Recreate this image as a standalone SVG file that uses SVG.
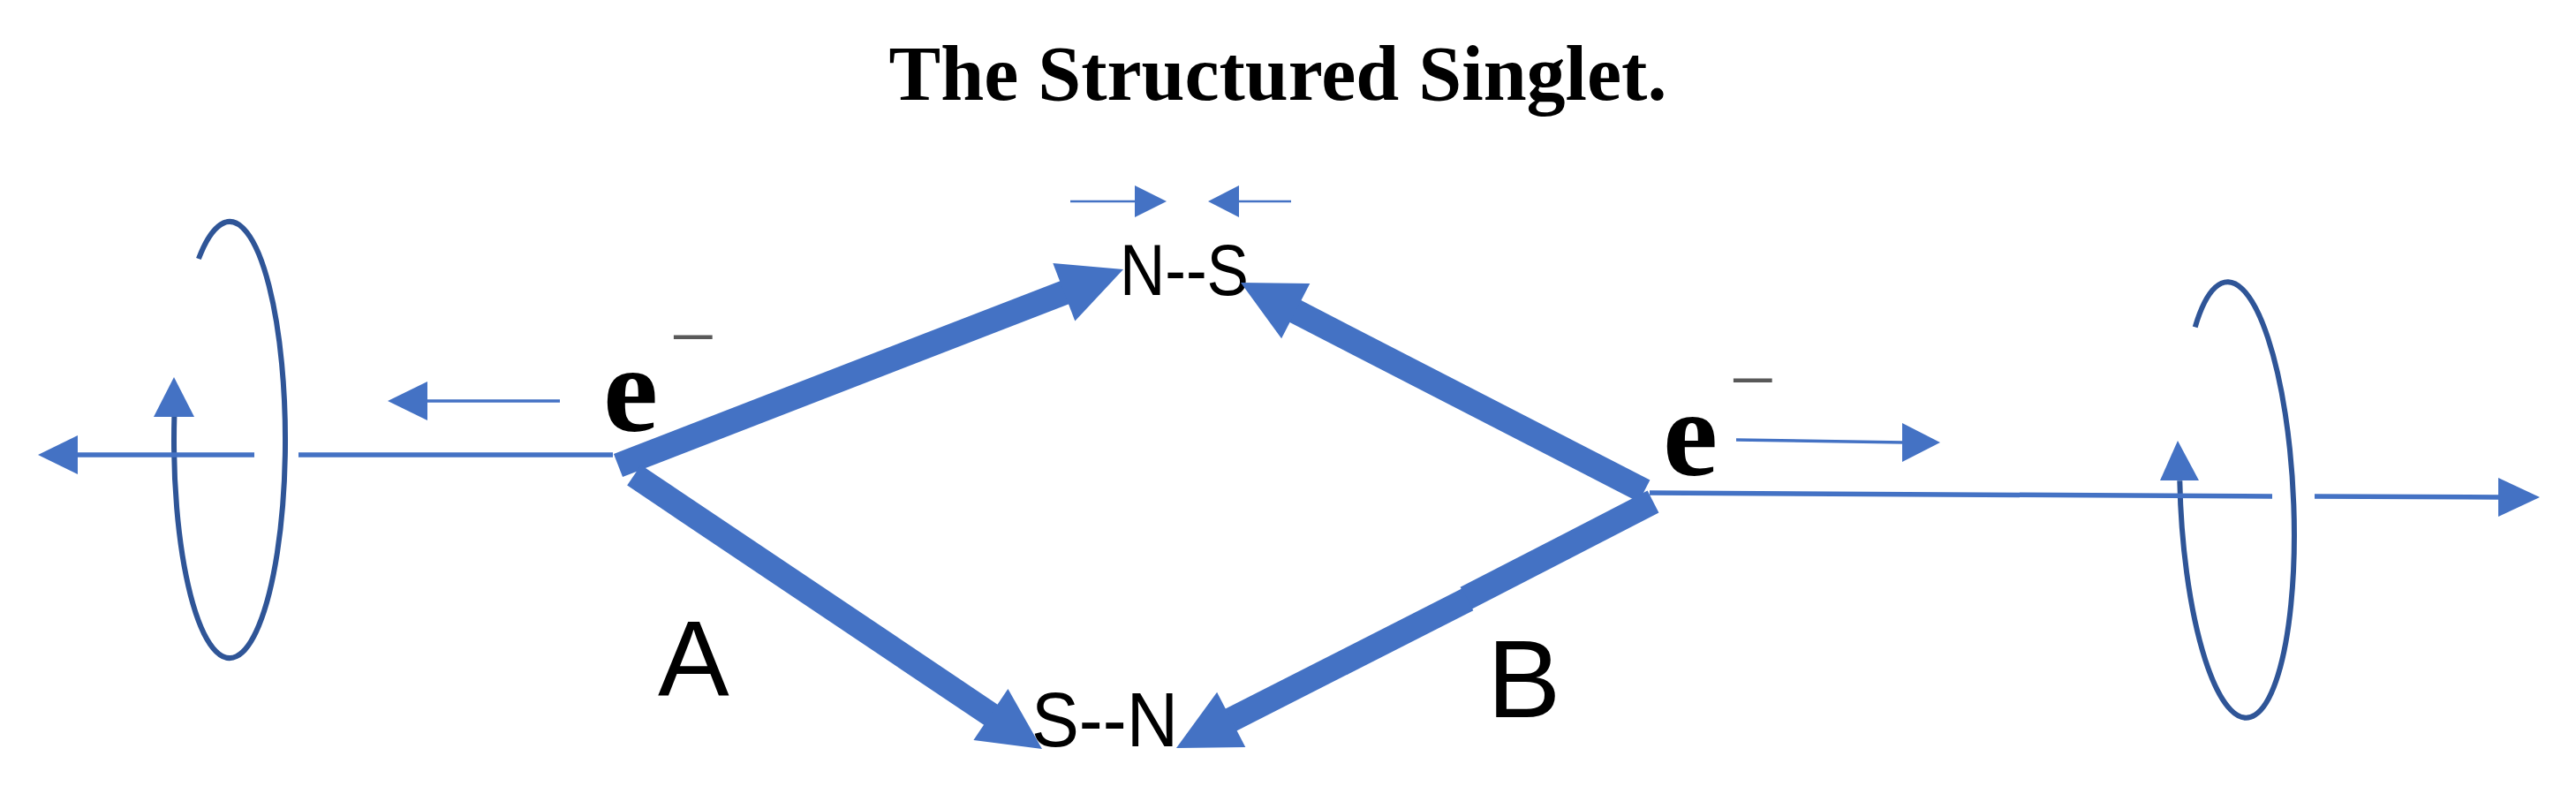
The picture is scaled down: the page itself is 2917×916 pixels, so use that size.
<svg xmlns="http://www.w3.org/2000/svg" width="2917" height="916" viewBox="0 0 2917 916">
<style>
.title{font-family:"Liberation Serif","Times New Roman",serif;font-weight:bold;font-size:88px;fill:#000}
.e{font-family:"Liberation Serif","Times New Roman",serif;font-weight:bold;font-size:140px;fill:#000}
.minus{font-family:"Liberation Serif","Times New Roman",serif;font-weight:normal;font-size:94px;fill:#595959}
.lbl{font-family:"Liberation Sans",Arial,sans-serif;fill:#000}
.thick{stroke:#4472C4;stroke-width:28;fill:none;stroke-linecap:butt}
.axis{stroke:#4472C4;stroke-width:5.5;fill:none}
.thin{stroke:#4472C4;stroke-width:3.5;fill:none}
.tiny{stroke:#4472C4;stroke-width:2.7;fill:none}
.head{fill:#4472C4}
.spin{stroke:#2F5597;stroke-width:6;fill:none}
</style>
<rect width="2917" height="916" fill="#fff"/>

<g id="title">
<text class="title" x="1447" y="113" text-anchor="middle">The Structured Singlet.</text>
</g>

<g id="spin-left">
<path class="spin" d="M 224.9 293 A 63 247 0 1 1 197.4 471"/>
<polygon class="head" points="174,472 220,472 197,427"/>
</g>

<g id="spin-right">
<path class="spin" d="M 2485.7 370.3 A 64 247 -2.6 1 1 2468.3 544.2"/>
<polygon class="head" points="2446,544 2490,544 2466,499"/>
</g>

<g id="electron-A">
<text class="e" x="683" y="488">e<tspan class="minus" x="758" y="413">−</tspan></text>
</g>

<g id="electron-B">
<text class="e" x="1883" y="538">e<tspan class="minus" x="1958" y="462">−</tspan></text>
</g>

<g id="magnet-NS">
<text class="lbl" x="1268" y="334" font-size="82" textLength="146" lengthAdjust="spacingAndGlyphs">N--S</text>
</g>

<g id="magnet-SN">
<text class="lbl" x="1168" y="845" font-size="87" textLength="166" lengthAdjust="spacingAndGlyphs">S--N</text>
</g>

<g id="label-A">
<text class="lbl" x="745" y="787" font-size="121">A</text>
</g>

<g id="label-B">
<text class="lbl" x="1684" y="812" font-size="125">B</text>
</g>

<g id="connectors">
<line class="axis" x1="86" y1="515" x2="288" y2="515"/>
<line class="axis" x1="338" y1="515" x2="694" y2="515"/>
<polygon class="head" points="43,515 88,493 88,537"/>
<line class="thin" x1="482" y1="454" x2="634" y2="454"/>
<polygon class="head" points="439,454 484,432 484,476"/>
<line class="axis" x1="1868" y1="558" x2="2573" y2="562"/>
<line class="axis" x1="2621" y1="562" x2="2831" y2="563"/>
<polygon class="head" points="2876,563 2829,541 2829,585"/>
<line class="thin" x1="1966" y1="498" x2="2156" y2="501"/>
<polygon class="head" points="2197,501 2154,479 2154,523"/>
<line class="tiny" x1="1212" y1="228" x2="1287" y2="228"/>
<polygon class="head" points="1321,228 1285,210 1285,246"/>
<line class="tiny" x1="1401" y1="228" x2="1462" y2="228"/>
<polygon class="head" points="1368,228 1403,210 1403,246"/>
<line class="thick" x1="700" y1="527" x2="1206" y2="331"/>
<polygon class="head" points="1272,305 1192.3,298.1 1217.3,363.5"/>
<line class="thick" x1="718" y1="538" x2="1123" y2="810"/>
<polygon class="head" points="1180,848 1102.4,838.1 1141.4,779.9"/>
<line class="thick" x1="1862" y1="556" x2="1466" y2="352"/>
<polygon class="head" points="1405,320 1483.3,321 1451.1,383.2"/>
<line class="thick" x1="1872" y1="568" x2="1660" y2="677.2"/>
<line class="thick" x1="1662" y1="678.8" x2="1393" y2="815.5"/>
<polygon class="head" points="1332,847 1410.3,846 1378.1,783.8"/>
</g>
</svg>
